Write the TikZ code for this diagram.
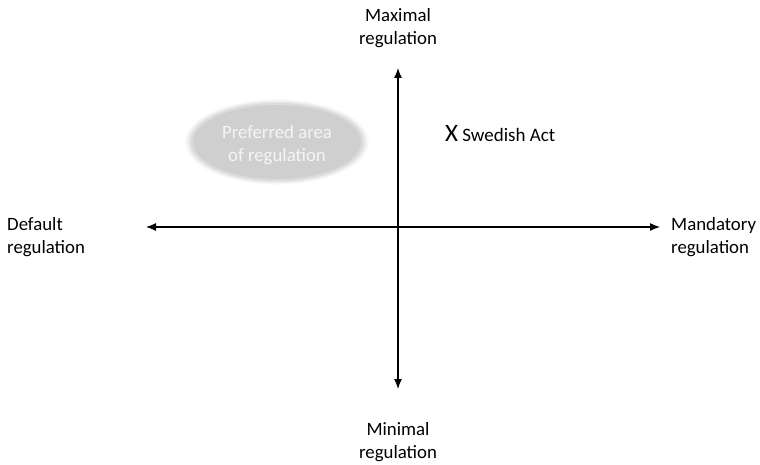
\documentclass[tikz,border=0pt]{standalone}
\usepackage{fontspec}
\setmainfont{Carlito}
\usetikzlibrary{arrows.meta}
\begin{document}
\begin{tikzpicture}[x=1pt,y=-1pt,
  axis/.style={line width=1.2pt,{Latex[length=10pt,width=8pt]}-{Latex[length=10pt,width=8pt]}},
  lbl/.style={inner sep=0pt,font=\fontsize{18.8}{23}\selectfont}]
\useasboundingbox (0,0) rectangle (760,465);
% preferred area (soft-edged ellipse)
\foreach \k/\o in {12/0.03,9/0.05,6/0.08,3/0.12}{
  \fill[black!22,opacity=\o*3] (277,142) ellipse ({85+\k*0.6} and {38+\k*0.4});
}
\fill[black!19] (277,142) ellipse (84 and 37);
\node[lbl,align=center,text=black!4] (pref) at (277,145) {Preferred area\\of regulation};
% axes
\coordinate (left) at (146,227);
\coordinate (right) at (660,227);
\coordinate (top) at (398,68);
\coordinate (bottom) at (398,389);
\draw[axis] (left) -- (right);
\draw[axis] (top) -- (bottom);
% labels
\node[lbl,align=center] (max) at (398,28) {Maximal\\regulation};
\node[lbl,align=center] (min) at (398,442) {Minimal\\regulation};
\node[lbl,align=left,anchor=west] (def) at (7,237) {Default\\regulation};
\node[lbl,align=left,anchor=west] (mand) at (671,237) {Mandatory\\regulation};
\node[inner sep=0pt,anchor=base west] (x) at (445,142) {\fontsize{25}{25}\selectfont X\,\fontsize{19}{22}\selectfont Swedish Act};
\end{tikzpicture}
\end{document}
